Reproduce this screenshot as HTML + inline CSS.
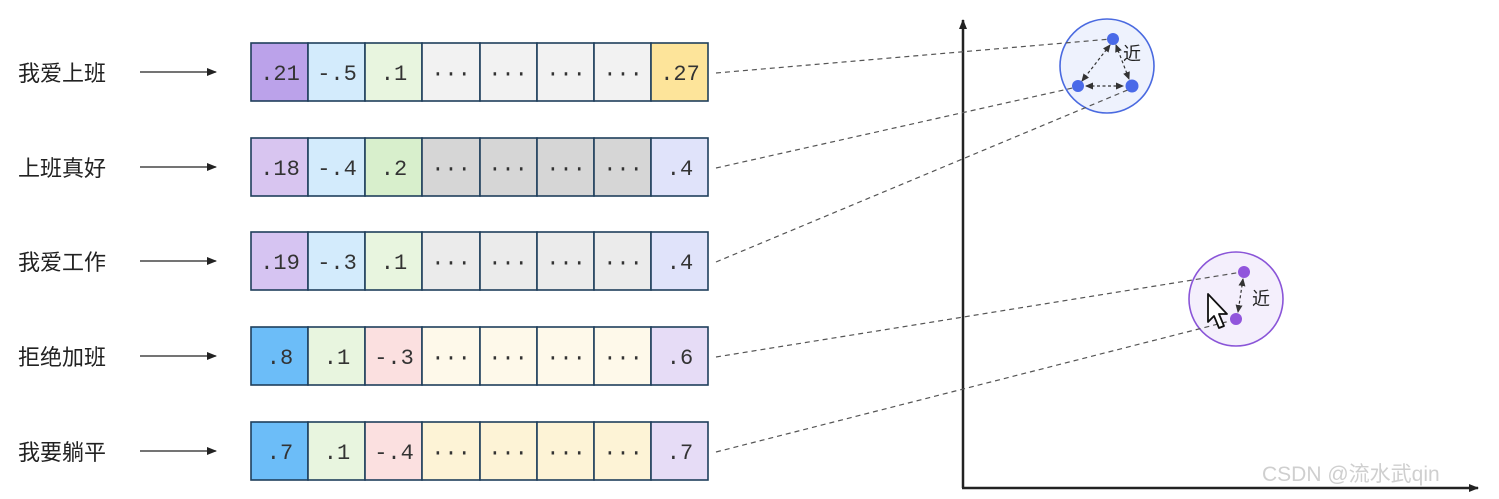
<!DOCTYPE html>
<html><head><meta charset="utf-8"><style>
html,body{margin:0;padding:0;background:#fff;}
svg{display:block;}
.lbl{font-family:"Liberation Sans","Noto Sans CJK SC",sans-serif;font-size:22px;fill:#222;}
.num{font-family:"Liberation Mono",monospace;font-size:22px;fill:#333;}
</style></head><body>
<svg width="1499" height="499" viewBox="0 0 1499 499" xmlns="http://www.w3.org/2000/svg">
<defs>
<marker id="ah" markerWidth="10" markerHeight="10" refX="9" refY="5" orient="auto" markerUnits="userSpaceOnUse"><path d="M0,1 L10,5 L0,9 z" fill="#222"/></marker>
<marker id="sa" markerWidth="8" markerHeight="8" refX="7" refY="4" orient="auto-start-reverse" markerUnits="userSpaceOnUse"><path d="M0,0.5 L8,4 L0,7.5 z" fill="#333"/></marker>
</defs>

<!-- labels and arrows -->
<g class="lbl">
<text x="18" y="81">我爱上班</text>
<text x="18" y="176">上班真好</text>
<text x="18" y="270">我爱工作</text>
<text x="18" y="365">拒绝加班</text>
<text x="18" y="460">我要躺平</text>
</g>
<g stroke="#222" stroke-width="1.3" marker-end="url(#ah)">
<line x1="140" y1="72" x2="216" y2="72"/>
<line x1="140" y1="167" x2="216" y2="167"/>
<line x1="140" y1="261" x2="216" y2="261"/>
<line x1="140" y1="356" x2="216" y2="356"/>
<line x1="140" y1="451" x2="216" y2="451"/>
</g>

<!-- rows -->
<g stroke="#1f3f5c" stroke-width="1.6">
<!-- row1 -->
<rect x="251" y="43" width="57" height="58" fill="#bba2ea"/>
<rect x="308" y="43" width="57" height="58" fill="#d3ebfc"/>
<rect x="365" y="43" width="57" height="58" fill="#e8f5df"/>
<rect x="422" y="43" width="58" height="58" fill="#f2f2f2"/>
<rect x="480" y="43" width="57" height="58" fill="#f2f2f2"/>
<rect x="537" y="43" width="57" height="58" fill="#f2f2f2"/>
<rect x="594" y="43" width="57" height="58" fill="#f2f2f2"/>
<rect x="651" y="43" width="57" height="58" fill="#fde49a"/>
<!-- row2 -->
<rect x="251" y="138" width="57" height="58" fill="#d8c5f0"/>
<rect x="308" y="138" width="57" height="58" fill="#d3ebfc"/>
<rect x="365" y="138" width="57" height="58" fill="#d8efcc"/>
<rect x="422" y="138" width="58" height="58" fill="#d6d6d6"/>
<rect x="480" y="138" width="57" height="58" fill="#d6d6d6"/>
<rect x="537" y="138" width="57" height="58" fill="#d6d6d6"/>
<rect x="594" y="138" width="57" height="58" fill="#d6d6d6"/>
<rect x="651" y="138" width="57" height="58" fill="#e0e3fa"/>
<!-- row3 -->
<rect x="251" y="232" width="57" height="58" fill="#d6c4f2"/>
<rect x="308" y="232" width="57" height="58" fill="#d3ebfc"/>
<rect x="365" y="232" width="57" height="58" fill="#e8f5df"/>
<rect x="422" y="232" width="58" height="58" fill="#ebebeb"/>
<rect x="480" y="232" width="57" height="58" fill="#ebebeb"/>
<rect x="537" y="232" width="57" height="58" fill="#ebebeb"/>
<rect x="594" y="232" width="57" height="58" fill="#ebebeb"/>
<rect x="651" y="232" width="57" height="58" fill="#e0e3fa"/>
<!-- row4 -->
<rect x="251" y="327" width="57" height="58" fill="#6cbdf8"/>
<rect x="308" y="327" width="57" height="58" fill="#e8f5df"/>
<rect x="365" y="327" width="57" height="58" fill="#fbe0e0"/>
<rect x="422" y="327" width="58" height="58" fill="#fef9ea"/>
<rect x="480" y="327" width="57" height="58" fill="#fef9ea"/>
<rect x="537" y="327" width="57" height="58" fill="#fef9ea"/>
<rect x="594" y="327" width="57" height="58" fill="#fef9ea"/>
<rect x="651" y="327" width="57" height="58" fill="#e6dcf6"/>
<!-- row5 -->
<rect x="251" y="422" width="57" height="58" fill="#6cbdf8"/>
<rect x="308" y="422" width="57" height="58" fill="#e8f5df"/>
<rect x="365" y="422" width="57" height="58" fill="#fbe0e0"/>
<rect x="422" y="422" width="58" height="58" fill="#fdf3d6"/>
<rect x="480" y="422" width="57" height="58" fill="#fdf3d6"/>
<rect x="537" y="422" width="57" height="58" fill="#fdf3d6"/>
<rect x="594" y="422" width="57" height="58" fill="#fdf3d6"/>
<rect x="651" y="422" width="57" height="58" fill="#e6dcf6"/>
</g>
<g class="num" text-anchor="middle">
<text x="280" y="80">.21</text><text x="337" y="80">-.5</text><text x="394" y="80">.1</text>
<text x="451" y="80">···</text><text x="508" y="80">···</text><text x="566" y="80">···</text><text x="623" y="80">···</text><text x="680" y="80">.27</text>
<text x="280" y="175">.18</text><text x="337" y="175">-.4</text><text x="394" y="175">.2</text>
<text x="451" y="175">···</text><text x="508" y="175">···</text><text x="566" y="175">···</text><text x="623" y="175">···</text><text x="680" y="175">.4</text>
<text x="280" y="269">.19</text><text x="337" y="269">-.3</text><text x="394" y="269">.1</text>
<text x="451" y="269">···</text><text x="508" y="269">···</text><text x="566" y="269">···</text><text x="623" y="269">···</text><text x="680" y="269">.4</text>
<text x="280" y="364">.8</text><text x="337" y="364">.1</text><text x="394" y="364">-.3</text>
<text x="451" y="364">···</text><text x="508" y="364">···</text><text x="566" y="364">···</text><text x="623" y="364">···</text><text x="680" y="364">.6</text>
<text x="280" y="459">.7</text><text x="337" y="459">.1</text><text x="394" y="459">-.4</text>
<text x="451" y="459">···</text><text x="508" y="459">···</text><text x="566" y="459">···</text><text x="623" y="459">···</text><text x="680" y="459">.7</text>
</g>

<!-- axes -->
<line x1="963" y1="488" x2="963" y2="20" stroke="#222" stroke-width="2.5" marker-end="url(#ah)"/>
<line x1="962" y1="488" x2="1478" y2="488" stroke="#222" stroke-width="2.5" marker-end="url(#ah)"/>

<!-- circles -->
<circle cx="1107" cy="66" r="47" fill="#eef2fd" stroke="#4a6ae0" stroke-width="1.6"/>
<circle cx="1236" cy="299" r="47" fill="#f4effc" stroke="#8a55d8" stroke-width="1.6"/>

<!-- dashed connectors -->
<g stroke="#555" stroke-width="1.2" stroke-dasharray="5,4" fill="none">
<line x1="716" y1="73" x2="1111" y2="39"/>
<line x1="716" y1="168" x2="1077" y2="87"/>
<line x1="716" y1="262" x2="1130" y2="89"/>
<line x1="716" y1="357" x2="1242" y2="272"/>
<line x1="716" y1="452" x2="1234" y2="320"/>
</g>
<g stroke="#333" stroke-width="1.2" stroke-dasharray="3,2.5" fill="none" marker-start="url(#sa)" marker-end="url(#sa)">
<line x1="1110" y1="45" x2="1082" y2="81"/>
<line x1="1116" y1="45" x2="1129" y2="79"/>
<line x1="1086" y1="86" x2="1123" y2="86"/>
<line x1="1243" y1="279" x2="1238" y2="312"/>
</g>
<g fill="#4a6ae8">
<circle cx="1113" cy="39" r="6"/><circle cx="1078" cy="86" r="6"/><circle cx="1132" cy="86" r="6.5"/>
</g>
<g fill="#9155dc">
<circle cx="1244" cy="272" r="6"/><circle cx="1236" cy="319" r="6"/>
</g>
<text class="lbl" x="1123" y="60" style="font-size:18px">近</text>
<text class="lbl" x="1252" y="305" style="font-size:18px">近</text>
<!-- cursor -->
<path d="M1208,294 L1208,322 L1214,316 L1219,328 L1224,326 L1219,314 L1227,314 Z" fill="#fff" stroke="#111" stroke-width="1.8" stroke-linejoin="round"/>

<text x="1262" y="481" style="font-family:'Liberation Sans','Noto Sans CJK SC',sans-serif;font-size:21px;fill:#cfcfcf">CSDN @流水武qin</text>
</svg>
</body></html>
